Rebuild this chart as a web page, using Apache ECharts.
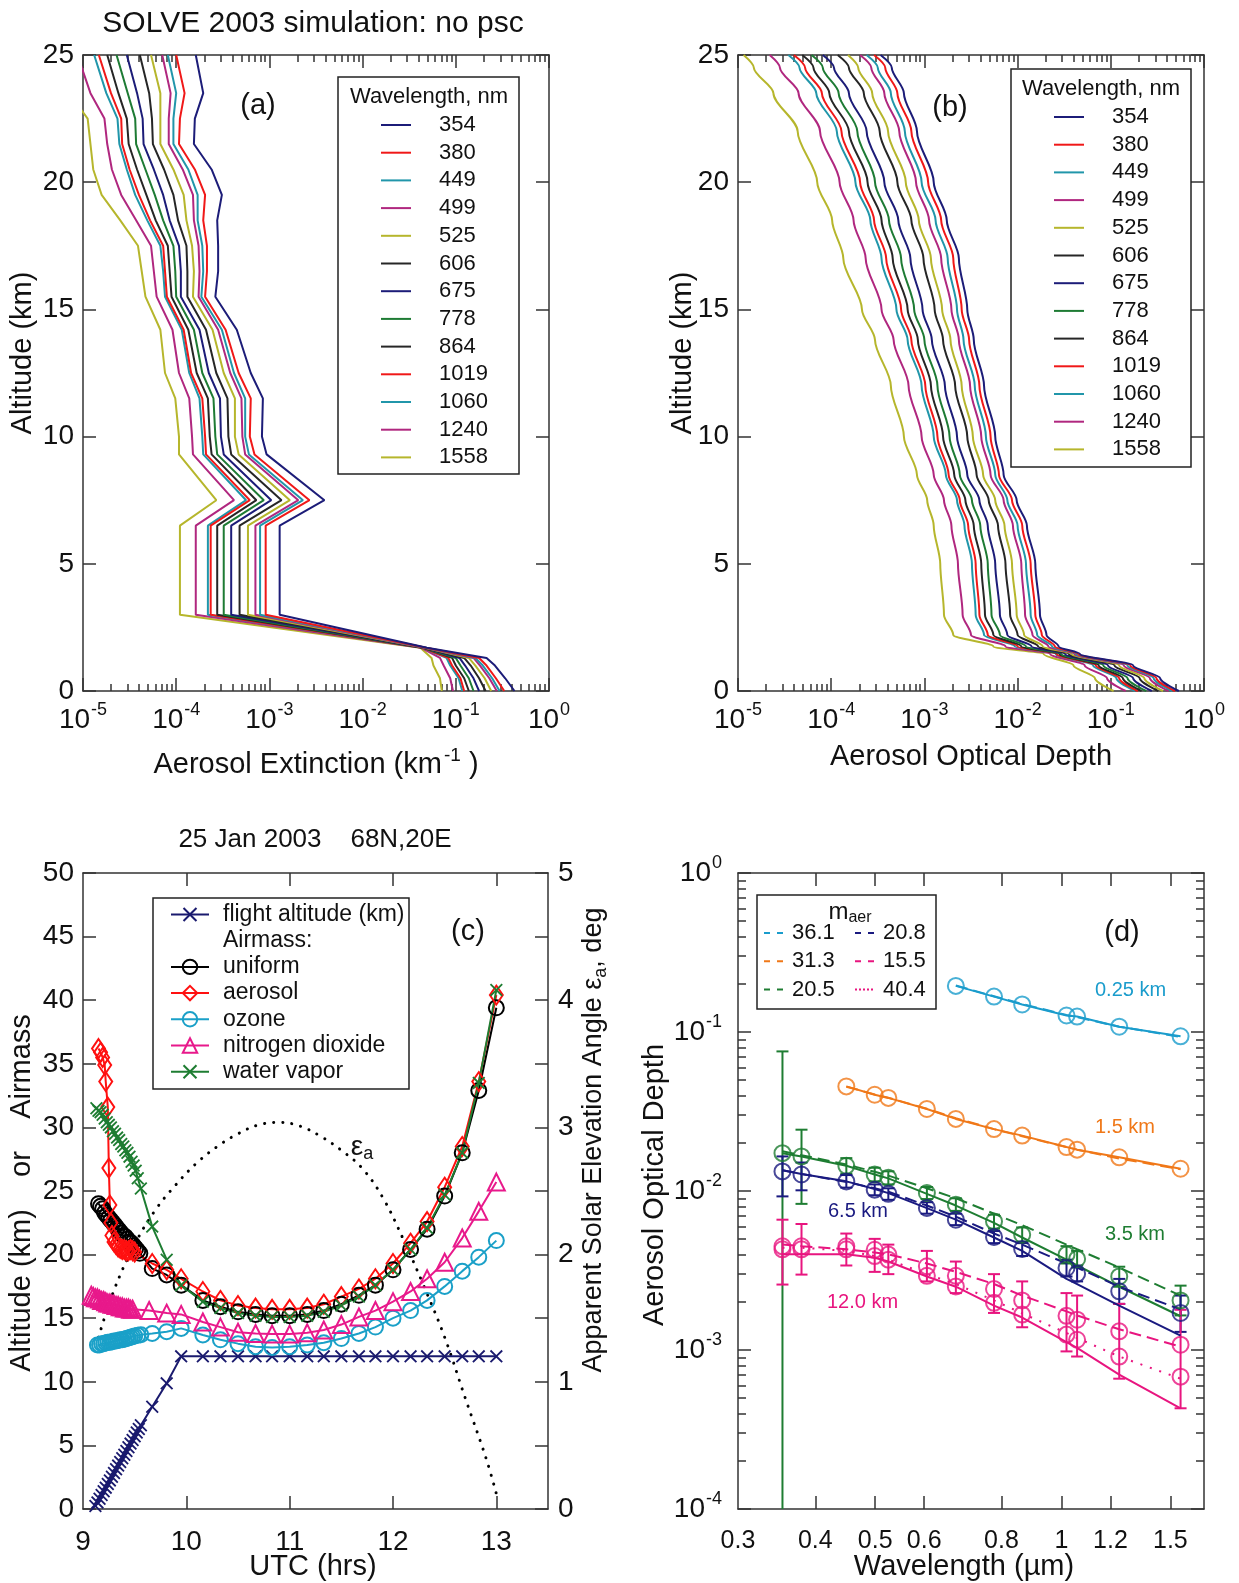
<!DOCTYPE html>
<html><head><meta charset="utf-8">
<script src="https://cdn.jsdelivr.net/npm/echarts@6/dist/echarts.min.js"></script>
<style>html,body{margin:0;padding:0;background:#fff}#c{width:1239px;height:1583px}</style>
</head><body><div id="c"></div>
<script>
// ================= DATA =================
const wavelengthsNm = ['354','380','449','499','525','606','675','778','864','1019','1060','1240','1558'];

// Panel (a): altitude levels (km) and log10 of aerosol extinction (km^-1)
const altA = [0,0.5,1,1.3,1.7,3,6.5,7.5,9.3,10,11.5,12.5,14.2,15.5,16.5,17.5,18.5,19.5,20.5,21.5,22.5,23.5,25];
const extA_354  = [-0.37,-0.47,-0.58,-0.67,-1.31,-2.89,-2.89,-2.41,-3.03,-3.08,-3.07,-3.20,-3.35,-3.58,-3.55,-3.55,-3.56,-3.51,-3.62,-3.81,-3.80,-3.71,-3.79];
const extA_380  = [-0.48,-0.57,-0.67,-0.75,-1.32,-3.04,-3.04,-2.57,-3.16,-3.21,-3.20,-3.33,-3.47,-3.69,-3.67,-3.67,-3.71,-3.69,-3.80,-3.97,-3.96,-3.91,-4.00];
const extA_449  = [-0.53,-0.61,-0.71,-0.79,-1.32,-3.10,-3.10,-2.64,-3.22,-3.26,-3.26,-3.38,-3.51,-3.73,-3.71,-3.72,-3.77,-3.77,-3.87,-4.03,-4.03,-4.00,-4.09];
const extA_499  = [-0.56,-0.64,-0.74,-0.81,-1.33,-3.15,-3.15,-2.69,-3.26,-3.29,-3.30,-3.42,-3.55,-3.76,-3.75,-3.76,-3.81,-3.82,-3.93,-4.08,-4.08,-4.06,-4.15];
const extA_525  = [-0.62,-0.69,-0.79,-0.86,-1.33,-3.23,-3.23,-2.78,-3.33,-3.37,-3.37,-3.49,-3.61,-3.82,-3.81,-3.83,-3.89,-3.92,-4.03,-4.17,-4.17,-4.17,-4.27];
const extA_606  = [-0.68,-0.75,-0.84,-0.91,-1.34,-3.32,-3.32,-2.87,-3.41,-3.44,-3.45,-3.57,-3.68,-3.88,-3.88,-3.89,-3.98,-4.03,-4.13,-4.25,-4.26,-4.29,-4.39];
const extA_675  = [-0.75,-0.81,-0.90,-0.96,-1.34,-3.41,-3.41,-2.98,-3.49,-3.52,-3.53,-3.65,-3.75,-3.95,-3.95,-3.97,-4.07,-4.14,-4.24,-4.35,-4.36,-4.42,-4.53];
const extA_778  = [-0.81,-0.86,-0.95,-1.00,-1.35,-3.49,-3.49,-3.06,-3.56,-3.58,-3.60,-3.72,-3.81,-4.00,-4.01,-4.03,-4.14,-4.23,-4.33,-4.43,-4.44,-4.52,-4.64];
const extA_864  = [-0.86,-0.91,-1.00,-1.04,-1.35,-3.56,-3.56,-3.14,-3.62,-3.64,-3.66,-3.78,-3.87,-4.05,-4.07,-4.09,-4.22,-4.32,-4.42,-4.51,-4.53,-4.62,-4.74];
const extA_1019 = [-0.91,-0.95,-1.04,-1.08,-1.36,-3.63,-3.63,-3.21,-3.68,-3.69,-3.72,-3.84,-3.92,-4.10,-4.12,-4.14,-4.28,-4.40,-4.50,-4.58,-4.59,-4.70,-4.83];
const extA_1060 = [-0.93,-0.97,-1.06,-1.10,-1.36,-3.66,-3.66,-3.25,-3.71,-3.72,-3.75,-3.86,-3.94,-4.12,-4.14,-4.17,-4.31,-4.44,-4.53,-4.61,-4.63,-4.75,-4.88];
const extA_1240 = [-1.03,-1.06,-1.13,-1.17,-1.37,-3.79,-3.79,-3.38,-3.82,-3.83,-3.86,-3.97,-4.04,-4.21,-4.24,-4.27,-4.43,-4.59,-4.69,-4.74,-4.77,-4.92,-5.06];
const extA_1558 = [-1.15,-1.17,-1.24,-1.26,-1.38,-3.96,-3.96,-3.57,-3.97,-3.97,-4.01,-4.12,-4.17,-4.33,-4.37,-4.41,-4.60,-4.80,-4.89,-4.92,-4.95,-5.15,-5.30];

// Panel (b): altitude levels (km) and log10 of aerosol optical depth
const altB = [0,0.5,1.0,1.45,1.75,2.2,3,5,6.5,7.5,8.5,10,12,13.8,15,17,18.5,20,22,23.5,24.5,25];
const odB_354  = [-0.27,-0.47,-0.76,-1.33,-1.56,-1.69,-1.76,-1.81,-1.90,-2.01,-2.15,-2.24,-2.36,-2.47,-2.54,-2.63,-2.76,-2.90,-3.08,-3.22,-3.35,-3.47];
const odB_380  = [-0.31,-0.51,-0.79,-1.35,-1.60,-1.74,-1.81,-1.86,-1.95,-2.06,-2.20,-2.29,-2.41,-2.52,-2.60,-2.69,-2.82,-2.96,-3.14,-3.29,-3.42,-3.54];
const odB_449  = [-0.34,-0.54,-0.82,-1.37,-1.63,-1.79,-1.86,-1.91,-2.00,-2.11,-2.24,-2.34,-2.46,-2.58,-2.65,-2.75,-2.88,-3.03,-3.21,-3.36,-3.50,-3.62];
const odB_499  = [-0.38,-0.58,-0.86,-1.39,-1.67,-1.84,-1.92,-1.96,-2.05,-2.15,-2.29,-2.39,-2.51,-2.63,-2.71,-2.82,-2.95,-3.09,-3.27,-3.43,-3.57,-3.69];
const odB_525  = [-0.44,-0.64,-0.91,-1.42,-1.73,-1.93,-2.01,-2.06,-2.14,-2.24,-2.37,-2.48,-2.60,-2.72,-2.81,-2.93,-3.06,-3.20,-3.39,-3.56,-3.71,-3.82];
const odB_606  = [-0.49,-0.69,-0.96,-1.45,-1.78,-2.00,-2.08,-2.13,-2.21,-2.31,-2.44,-2.54,-2.67,-2.80,-2.89,-3.01,-3.14,-3.29,-3.48,-3.65,-3.81,-3.93];
const odB_675  = [-0.56,-0.76,-1.03,-1.49,-1.85,-2.11,-2.19,-2.24,-2.32,-2.41,-2.54,-2.65,-2.78,-2.92,-3.02,-3.15,-3.28,-3.43,-3.62,-3.81,-3.97,-4.09];
const odB_778  = [-0.62,-0.82,-1.08,-1.53,-1.91,-2.19,-2.28,-2.32,-2.40,-2.49,-2.62,-2.73,-2.86,-3.00,-3.11,-3.25,-3.38,-3.53,-3.72,-3.92,-4.09,-4.21];
const odB_864  = [-0.67,-0.87,-1.13,-1.55,-1.96,-2.26,-2.35,-2.39,-2.47,-2.56,-2.68,-2.80,-2.93,-3.07,-3.18,-3.34,-3.46,-3.61,-3.81,-4.02,-4.19,-4.31];
const odB_1019 = [-0.71,-0.91,-1.16,-1.58,-2.00,-2.32,-2.41,-2.45,-2.53,-2.62,-2.74,-2.86,-2.99,-3.14,-3.25,-3.41,-3.54,-3.69,-3.89,-4.10,-4.28,-4.40];
const odB_1060 = [-0.74,-0.94,-1.19,-1.59,-2.03,-2.36,-2.45,-2.49,-2.57,-2.65,-2.77,-2.90,-3.03,-3.18,-3.30,-3.46,-3.58,-3.74,-3.94,-4.16,-4.34,-4.46];
const odB_1240 = [-0.84,-1.04,-1.28,-1.65,-2.13,-2.50,-2.59,-2.64,-2.71,-2.79,-2.90,-3.03,-3.17,-3.33,-3.46,-3.63,-3.76,-3.91,-4.12,-4.35,-4.55,-4.66];
const odB_1558 = [-0.97,-1.17,-1.40,-1.72,-2.26,-2.69,-2.79,-2.83,-2.90,-2.97,-3.08,-3.22,-3.36,-3.53,-3.67,-3.87,-3.99,-4.15,-4.36,-4.62,-4.83,-4.94];

// Panel (c): UTC hours and values
const flightT   = [9.12,9.14,9.16,9.18,9.20,9.22,9.24,9.26,9.28,9.30,9.32,9.34,9.36,9.38,9.40,9.42,9.44,9.46,9.48,9.50,9.52,9.54,9.56,9.67,9.81,9.95,10.16,10.33,10.50,10.67,10.83,11.00,11.17,11.33,11.50,11.67,11.83,12.00,12.17,12.33,12.50,12.67,12.83,13.00];
const flightAlt = [0.23,0.52,0.81,1.10,1.39,1.68,1.97,2.25,2.54,2.83,3.12,3.41,3.70,3.99,4.27,4.56,4.85,5.14,5.43,5.72,6.01,6.29,6.58,8.04,9.88,12,12,12,12,12,12,12,12,12,12,12,12,12,12,12,12,12,12,12];
const uniformT  = [9.15,9.17,9.19,9.21,9.23,9.25,9.27,9.29,9.31,9.33,9.35,9.37,9.39,9.41,9.43,9.45,9.47,9.49,9.51,9.53,9.55,9.67,9.81,9.95,10.16,10.33,10.50,10.67,10.83,11.00,11.17,11.33,11.50,11.67,11.83,12.00,12.17,12.33,12.50,12.67,12.83,13.00];
const uniformAM = [24.0,23.8,23.6,23.3,23.1,22.9,22.7,22.5,22.3,22.1,21.9,21.7,21.5,21.4,21.2,21.0,20.9,20.7,20.5,20.3,20.1,18.9,18.4,17.6,16.4,15.9,15.5,15.3,15.2,15.2,15.3,15.6,16.1,16.8,17.6,18.8,20.4,22.0,24.6,28.0,32.9,39.4];
const aerosolT  = [9.15,9.17,9.19,9.21,9.22,9.24,9.25,9.26,9.27,9.28,9.30,9.32,9.34,9.36,9.38,9.40,9.42,9.44,9.46,9.48,9.50,9.67,9.81,9.95,10.16,10.33,10.50,10.67,10.83,11.00,11.17,11.33,11.50,11.67,11.83,12.00,12.17,12.33,12.50,12.67,12.83,13.00];
const aerosolAM = [36.2,35.9,35.5,34.9,33.6,31.6,26.8,23.9,22.5,21.5,21.0,20.8,20.6,20.5,20.4,20.4,20.3,20.3,20.4,20.3,20.2,19.3,18.8,18.1,17.1,16.4,16.0,15.8,15.7,15.7,15.8,16.1,16.7,17.3,18.1,19.3,20.9,22.6,25.3,28.5,33.6,40.4];
const ozoneT    = [9.14,9.16,9.18,9.20,9.22,9.24,9.26,9.28,9.30,9.32,9.34,9.36,9.38,9.40,9.42,9.44,9.46,9.48,9.50,9.53,9.56,9.67,9.81,9.95,10.16,10.33,10.50,10.67,10.83,11.00,11.17,11.33,11.50,11.67,11.83,12.00,12.17,12.33,12.50,12.67,12.83,13.00];
const ozoneAM   = [12.9,12.9,13.0,13.0,13.05,13.1,13.1,13.15,13.2,13.2,13.25,13.3,13.3,13.35,13.4,13.45,13.5,13.55,13.6,13.65,13.7,13.8,13.94,14.2,13.68,13.3,13.0,12.76,12.7,12.76,12.9,13.07,13.4,13.8,14.3,15.0,15.6,16.4,17.5,18.7,19.8,21.1];
const no2T      = [9.08,9.10,9.12,9.14,9.16,9.18,9.20,9.22,9.24,9.26,9.28,9.30,9.32,9.34,9.36,9.38,9.40,9.42,9.44,9.46,9.48,9.64,9.81,9.95,10.16,10.33,10.50,10.67,10.83,11.00,11.17,11.33,11.50,11.67,11.83,12.00,12.17,12.33,12.50,12.67,12.83,13.00];
const no2AM     = [16.8,16.7,16.6,16.6,16.5,16.4,16.4,16.3,16.2,16.2,16.1,16.1,16.0,16.0,15.9,15.9,15.8,15.8,15.8,15.7,15.7,15.6,15.4,15.3,14.7,14.3,13.9,13.8,13.75,13.75,13.85,14.07,14.5,15.1,15.6,16.3,17.1,18.1,19.4,21.3,23.4,25.7];
const waterT    = [9.13,9.15,9.17,9.19,9.21,9.23,9.25,9.27,9.29,9.31,9.33,9.35,9.37,9.39,9.41,9.43,9.45,9.47,9.49,9.51,9.53,9.56,9.67,9.81,9.95,10.16,10.33,10.50,10.67,10.83,11.00,11.17,11.33,11.50,11.67,11.83,12.00,12.17,12.33,12.50,12.67,12.83,13.00];
const waterAM   = [31.5,31.3,31.2,31.0,30.7,30.4,30.2,30.0,29.7,29.5,29.2,29.0,28.7,28.5,28.2,28.0,27.7,27.3,27.0,26.6,26.0,25.2,22.2,19.6,17.6,16.3,15.8,15.4,15.2,15.1,15.1,15.2,15.5,16.0,16.7,17.6,18.8,20.4,22.1,24.7,28.0,33.5,40.8];
const elevT     = [9.15,9.3,9.5,9.7,9.9,10.1,10.3,10.5,10.7,10.9,11.1,11.3,11.5,11.7,11.9,12.1,12.3,12.5,12.7,12.9,13.0];
const elevDeg   = [1.35,1.72,2.08,2.35,2.55,2.72,2.85,2.95,3.02,3.04,3.01,2.93,2.82,2.68,2.45,2.12,1.75,1.35,0.87,0.40,0.12];

// Panel (d): wavelength (um) and AOD
const lamAll = [0.354,0.380,0.449,0.499,0.525,0.606,0.675,0.778,0.864,1.019,1.060,1.240,1.558];
const lam025 = [0.675,0.778,0.864,1.019,1.060,1.240,1.558];
const aod025 = [0.195,0.167,0.149,0.127,0.125,0.108,0.094];
const fit025 = [0.196,0.168,0.150,0.128,0.124,0.108,0.093];
const lam15  = [0.449,0.499,0.525,0.606,0.675,0.778,0.864,1.019,1.060,1.240,1.558];
const aod15  = [0.0455,0.0403,0.0385,0.0328,0.0284,0.0245,0.0223,0.0189,0.0182,0.0163,0.0138];
const fit15  = [0.0453,0.0405,0.0386,0.0329,0.0287,0.0245,0.0221,0.0189,0.0182,0.0160,0.0137];
const aod35  = [0.0173,0.0165,0.0144,0.0127,0.0121,0.0097,0.0082,0.00644,0.00531,0.00398,0.00374,0.0029,0.00205];
const true35 = [0.0173,0.0165,0.0144,0.0127,0.0120,0.0096,0.0081,0.0063,0.0051,0.0037,0.0034,0.0025,0.00163];
const fit35  = [0.0178,0.0168,0.0147,0.0132,0.0125,0.0104,0.0090,0.0072,0.0061,0.0046,0.0043,0.0033,0.0022];
const err35Lo = [0.00001,0.0083,0.0128,0.0115,0.0110,0.0089,0.0075,0.0058,0.0048,0.0035,0.0033,0.0025,0.00165];
const err35Hi = [0.0755,0.0243,0.0161,0.0140,0.0133,0.0106,0.0090,0.0071,0.0059,0.0045,0.0042,0.00334,0.00254];
const aod65  = [0.01328,0.0127,0.01149,0.0102,0.0096,0.00782,0.0066,0.00514,0.00432,0.00328,0.00302,0.00234,0.00171];
const true65 = [0.0135,0.0128,0.0115,0.0103,0.0097,0.0078,0.0066,0.0051,0.0042,0.0028,0.0026,0.0019,0.00123];
const fit65  = [0.0135,0.0128,0.0114,0.0104,0.0099,0.0081,0.0069,0.0054,0.0046,0.0035,0.0033,0.0025,0.0018];
const err65Lo = [0.00925,0.0101,0.0105,0.0094,0.0088,0.0072,0.0061,0.0047,0.0039,0.0029,0.0027,0.00195,0.0013];
const err65Hi = [0.0165,0.0151,0.0126,0.0110,0.0104,0.0085,0.0072,0.0056,0.0047,0.0037,0.0034,0.0028,0.0022];
const aod12a = [0.00449,0.00449,0.00449,0.00427,0.00398,0.00336,0.00293,0.00242,0.00205,0.00164,0.00155,0.00131,0.00108];
const fit12a = [0.0046,0.0045,0.0043,0.0041,0.0040,0.0035,0.0031,0.0026,0.0022,0.00175,0.00165,0.00135,0.00105];
const aod12b = [0.0043,0.0043,0.0043,0.0039,0.0037,0.00293,0.00251,0.00198,0.00167,0.00125,0.00116,0.00091,0.00068];
const fit12b = [0.0044,0.0044,0.0042,0.0039,0.0037,0.0030,0.0026,0.00205,0.0017,0.00128,0.00119,0.00091,0.00066];
const true12 = [0.0040,0.0040,0.0040,0.0038,0.0036,0.0029,0.0025,0.0019,0.0016,0.00112,0.00103,0.00070,0.00043];
const err12Lo = [0.00258,0.00298,0.0034,0.0031,0.0030,0.0027,0.00228,0.00171,0.00139,0.00098,0.00091,0.00066,0.00043];
const err12Hi = [0.0066,0.0062,0.0054,0.0050,0.0046,0.0042,0.0036,0.0030,0.0027,0.00228,0.0022,0.00195,0.00179];

// Tick labels
const tickLogAB = [1e-5,1e-4,1e-3,1e-2,1e-1,1];
const tickLogD  = [1e-4,1e-3,1e-2,1e-1,1];
const tickXC    = [9,10,11,12,13];
const tickYRC   = [0,1,2,3,4,5];
const tickXD    = [0.3,0.4,0.5,0.6,0.8,1,1.2,1.5];

// ================= STYLE / BUILD =================
const FF = '"Liberation Sans", Arial, Helvetica, sans-serif';
const TXT = '#111';
const AX = '#333';
const extA = [extA_354,extA_380,extA_449,extA_499,extA_525,extA_606,extA_675,extA_778,extA_864,extA_1019,extA_1060,extA_1240,extA_1558];
const odB  = [odB_354,odB_380,odB_449,odB_499,odB_525,odB_606,odB_675,odB_778,odB_864,odB_1019,odB_1060,odB_1240,odB_1558];
const cNavy='#1c1c78', cRed='#f01818', cTeal='#2196aa', cMag='#b0277f', cOlive='#b6b62c', cBlk='#262626', cGreen='#1e7b34';
const colAB = [cNavy,cRed,cTeal,cMag,cOlive,cBlk,cNavy,cGreen,cBlk,cRed,cTeal,cMag,cOlive];

function minorsOf(lo, hi) { const r=[]; for (let e=lo; e<hi; e++) for (let m=2;m<=9;m++) r.push(m*Math.pow(10,e)); return r; }
const minAB = minorsOf(-5, 0), minD = minorsOf(-4, 0);
const logFmt = v => '{b|10}{s|' + Math.round(Math.log10(v)) + '}';
const logRich = { b:{fontFamily:FF,fontSize:28,color:TXT}, s:{fontFamily:FF,fontSize:18,color:TXT,padding:[0,0,20,1]} };
const plainLab = (o) => Object.assign({show:true, fontFamily:FF, fontSize:28, color:TXT}, o);

function ax(o) {
  const a = {
    gridIndex:o.grid, type:o.type||'value', position:o.pos, min:o.min, max:o.max,
    axisLine:{show:o.line!==false, onZero:false, lineStyle:{color:AX,width:1.5}},
    axisTick:{show:true, inside:true, length:o.len||13, lineStyle:{color:AX,width:1.5}},
    axisLabel:{show:false}, splitLine:{show:false}, minorTick:{show:false}, minorSplitLine:{show:false}, silent:true
  };
  if (o.type==='log') a.logBase = 10;
  if (o.interval!=null) a.interval = o.interval;
  if (o.ticks) a.axisTick.customValues = o.ticks;
  if (o.label) a.axisLabel = o.label;
  return a;
}
const xAxes = [], yAxes = [];
[0,1].forEach(g => {
  xAxes.push(ax({grid:g,type:'log',min:1e-5,max:1,pos:'bottom',ticks:tickLogAB,
    label:{show:true,customValues:tickLogAB,formatter:logFmt,rich:logRich,margin:10,fontFamily:FF,fontSize:28,color:TXT}}));
  xAxes.push(ax({grid:g,type:'log',min:1e-5,max:1,pos:'bottom',ticks:minAB,len:7,line:false}));
  xAxes.push(ax({grid:g,type:'log',min:1e-5,max:1,pos:'top',ticks:tickLogAB}));
  xAxes.push(ax({grid:g,type:'log',min:1e-5,max:1,pos:'top',ticks:minAB,len:7,line:false}));
  yAxes.push(ax({grid:g,min:0,max:25,interval:5,pos:'left',label:plainLab({margin:9})}));
  yAxes.push(ax({grid:g,min:0,max:25,interval:5,pos:'right'}));
});
xAxes.push(ax({grid:2,min:9,max:13.5,interval:1,pos:'bottom',ticks:[10,11,12,13],label:plainLab({customValues:tickXC,margin:19})}));
xAxes.push(ax({grid:2,min:9,max:13.5,interval:1,pos:'top',ticks:[10,11,12,13]}));
yAxes.push(ax({grid:2,min:0,max:50,interval:5,pos:'left',label:plainLab({margin:9})}));
yAxes.push(ax({grid:2,min:0,max:5,interval:0.5,pos:'right',label:plainLab({customValues:tickYRC,margin:10})}));
const dTicks = [0.4,0.5,0.6,0.8,1,1.2,1.5];
xAxes.push(ax({grid:3,type:'log',min:0.3,max:1.7,pos:'bottom',ticks:dTicks,
  label:plainLab({customValues:tickXD,margin:20,fontSize:25,formatter:v=>String(Math.round(v*10)/10)})}));
xAxes.push(ax({grid:3,type:'log',min:0.3,max:1.7,pos:'top',ticks:dTicks}));
yAxes.push(ax({grid:3,type:'log',min:1e-4,max:1,pos:'left',ticks:tickLogD,
  label:{show:true,customValues:tickLogD,formatter:logFmt,rich:logRich,margin:16,fontFamily:FF,fontSize:28,color:TXT}}));
yAxes.push(ax({grid:3,type:'log',min:1e-4,max:1,pos:'left',ticks:minD,len:8,line:false}));
yAxes.push(ax({grid:3,type:'log',min:1e-4,max:1,pos:'right',ticks:tickLogD}));
yAxes.push(ax({grid:3,type:'log',min:1e-4,max:1,pos:'right',ticks:minD,len:8,line:false}));

const series = [];
for (let i = wavelengthsNm.length-1; i >= 0; i--) {
  series.push({name:wavelengthsNm[i], type:'line', xAxisIndex:0, yAxisIndex:0, symbol:'none', clip:true, z:3,
    lineStyle:{color:colAB[i],width:2}, itemStyle:{color:colAB[i]},
    data: altA.map((h,k)=>[Math.pow(10, extA[i][k]), h])});
  series.push({name:wavelengthsNm[i], type:'line', xAxisIndex:4, yAxisIndex:2, symbol:'none', clip:true, z:3,
    smooth:0.3, smoothMonotone:'y',
    lineStyle:{color:colAB[i],width:2}, itemStyle:{color:colAB[i]},
    data: altB.map((h,k)=>[Math.pow(10, odB[i][k]), h])});
}
const XPATH = 'path://M0,1L1,0L5,4L9,0L10,1L6,5L10,9L9,10L5,6L1,10L0,9L4,5Z';
const pairs = (xs, ys) => xs.map((x,i)=>[x, ys[i]]);
const cFlight='#1a1a6e', cUni='#000000', cAer='#ff1010', cOz='#1aa0c8', cNo2='#e8198b', cWat='#1e7d32';
function cSeries(name, xs, ys, color, symbol, size, hollow) {
  return {name, type:'line', xAxisIndex:8, yAxisIndex:4, data:pairs(xs,ys), symbol, symbolSize:size, z:4,
    showAllSymbol:true, clip:true,
    lineStyle:{color, width:2},
    itemStyle: hollow ? {color:'rgba(0,0,0,0)', borderColor:color, borderWidth:2} : {color, borderWidth:0}};
}
series.push({name:'ε', type:'line', xAxisIndex:8, yAxisIndex:5, data:pairs(elevT, elevDeg), symbol:'none', smooth:0.4, z:2,
  lineStyle:{color:'#000', width:3, type:[0.1,9], cap:'round'}});
series.push(cSeries('flight altitude (km)', flightT, flightAlt, cFlight, XPATH, 13, false));
series.push(cSeries('ozone', ozoneT, ozoneAM, cOz, 'circle', 15, true));
series.push(cSeries('nitrogen dioxide', no2T, no2AM, cNo2, 'triangle', 17, true));
series.push(cSeries('uniform', uniformT, uniformAM, cUni, 'circle', 15, true));
series.push(cSeries('aerosol', aerosolT, aerosolAM, cAer, 'diamond', [13,19], true));
series.push(cSeries('water vapor', waterT, waterAM, cWat, XPATH, 13, false));
series.push({name:'Airmass:', type:'line', xAxisIndex:8, yAxisIndex:4, data:[], symbol:'none', lineStyle:{opacity:0}});

const dCy='#1a9ccc', dOr='#f07818', dGr='#1e7d32', dNv='#1a1a80', dPk='#e8157f';
function dLine(name, xs, ys, color, type, w) {
  return {name, type:'line', xAxisIndex:10, yAxisIndex:6, data:pairs(xs,ys), symbol:'none', clip:true, z:3,
    lineStyle:{color, width:w||2, type:type||'solid'}, itemStyle:{color}};
}
function dCirc(name, xs, ys, color) {
  return {name, type:'scatter', xAxisIndex:10, yAxisIndex:6, data:pairs(xs,ys), symbol:'circle', symbolSize:16, z:4,
    itemStyle:{color:'rgba(0,0,0,0)', borderColor:color, borderWidth:2}};
}
function dErr(name, xs, lo, hi, color) {
  return {name, type:'custom', xAxisIndex:10, yAxisIndex:6, clip:true, z:3,
    data: xs.map((x,i)=>[x, lo[i], hi[i]]), encode:{x:0, y:[1,2]},
    renderItem:(params, api) => {
      const x = api.value(0), p1 = api.coord([x, api.value(2)]), p2 = api.coord([x, api.value(1)]);
      const w = 6, st = {stroke:color, lineWidth:2};
      return {type:'group', children:[
        {type:'line', shape:{x1:p1[0],y1:p1[1],x2:p2[0],y2:p2[1]}, style:st},
        {type:'line', shape:{x1:p1[0]-w,y1:p1[1],x2:p1[0]+w,y2:p1[1]}, style:st},
        {type:'line', shape:{x1:p2[0]-w,y1:p2[1],x2:p2[0]+w,y2:p2[1]}, style:st}]};
    }};
}
series.push(dLine('t025', lam025, aod025, dCy));
series.push(dLine('36.1', lam025, fit025, dCy, [12,6]));
series.push(dCirc('c025', lam025, aod025, dCy));
series.push(dLine('t15', lam15, aod15, dOr));
series.push(dLine('31.3', lam15, fit15, dOr, [12,6]));
series.push(dCirc('c15', lam15, aod15, dOr));
series.push(dErr('e35', lamAll, err35Lo, err35Hi, dGr));
series.push(dLine('t35', lamAll, true35, dGr));
series.push(dLine('20.5', lamAll, fit35, dGr, [12,6]));
series.push(dCirc('c35', lamAll, aod35, dGr));
series.push(dErr('e65', lamAll, err65Lo, err65Hi, dNv));
series.push(dLine('t65', lamAll, true65, dNv));
series.push(dLine('20.8', lamAll, fit65, dNv, [12,6]));
series.push(dCirc('c65', lamAll, aod65, dNv));
series.push(dErr('e12', lamAll, err12Lo, err12Hi, dPk));
series.push(dLine('t12', lamAll, true12, dPk));
series.push(dLine('15.5', lamAll, fit12a, dPk, [12,6]));
series.push(dLine('40.4', lamAll, fit12b, dPk, [2,8]));
series.push(dCirc('c12a', lamAll, aod12a, dPk));
series.push(dCirc('c12b', lamAll, aod12b, dPk));

const legText = (size, padL) => ({fontFamily:FF, fontSize:size, color:TXT, lineHeight:size, padding:[0,0,0,padL]});
const noSym = {opacity:0};
const dash = {type:[6,7]};
const legends = [
  {orient:'vertical', left:380, top:114, padding:0, itemGap:5.7, itemWidth:30, itemHeight:12, selectedMode:false, z:60,
   itemStyle:noSym, textStyle:legText(22,23), data:wavelengthsNm},
  {orient:'vertical', left:1053, top:106, padding:0, itemGap:5.7, itemWidth:30, itemHeight:12, selectedMode:false, z:60,
   itemStyle:noSym, textStyle:legText(22,23), data:wavelengthsNm},
  {orient:'vertical', left:170, top:903, padding:0, itemGap:3.2, itemWidth:38, itemHeight:18, selectedMode:false, z:60,
   textStyle:legText(23,9),
   data:['flight altitude (km)', {name:'Airmass:', itemStyle:{opacity:0}, lineStyle:{opacity:0}}, 'uniform','aerosol','ozone','nitrogen dioxide','water vapor']},
  {orient:'vertical', left:763, top:922, padding:0, itemGap:6.3, itemWidth:20, itemHeight:10, selectedMode:false, z:60,
   itemStyle:noSym, textStyle:legText(22,3),
   data:[{name:'36.1',lineStyle:dash},{name:'31.3',lineStyle:dash},{name:'20.5',lineStyle:dash}]},
  {orient:'vertical', left:854, top:922, padding:0, itemGap:6.3, itemWidth:20, itemHeight:10, selectedMode:false, z:60,
   itemStyle:noSym, textStyle:legText(22,3),
   data:[{name:'20.8',lineStyle:dash},{name:'15.5',lineStyle:dash},{name:'40.4',lineStyle:{type:[2,2]}}]}
];

function T(x, y, text, size, o) {
  o = o || {};
  const st = {text, fontFamily:FF, fontSize:size, fill:o.color||TXT, align:o.align||'center', verticalAlign:'middle'};
  if (o.rich) st.rich = o.rich;
  return {type:'text', x, y, rotation:o.rot||0, z:70, silent:true, style:st};
}
const box = (x,y,w,h) => ({type:'rect', z:50, silent:true, shape:{x,y,width:w,height:h}, style:{fill:'#fff', stroke:'#222', lineWidth:1.5}});
const R = Math.PI/2;
const supRich = (sz) => ({t:{fontFamily:FF,fontSize:sz,fill:TXT}, s:{fontFamily:FF,fontSize:Math.round(sz*0.65),fill:TXT,padding:[0,0,Math.round(sz*0.62),2]}});
const subRich = (sz) => ({t:{fontFamily:FF,fontSize:sz,fill:TXT}, u:{fontFamily:FF,fontSize:Math.round(sz*0.65),fill:TXT,padding:[Math.round(sz*0.5),0,0,0]}});
const graphic = [
  box(338,77,181,397), box(1011,69,180,398), box(153,898,256,191), box(757,895,179,114),
  T(429,97,'Wavelength, nm',22), T(1101,89,'Wavelength, nm',22),
  T(850,912,'{t|m}{u|aer}',24,{rich:subRich(24)}),
  T(313,24,'SOLVE 2003 simulation: no psc',30),
  T(316,765,'{t|Aerosol Extinction (km}{s|-1}{t| )}',29,{rich:supRich(29)}),
  T(971,757,'Aerosol Optical Depth',29),
  T(23,353,'Altitude (km)',29,{rot:R}),
  T(683,353,'Altitude (km)',29,{rot:R}),
  T(258,106,'(a)',29), T(950,108,'(b)',29), T(468,932,'(c)',29), T(1122,933,'(d)',29),
  T(315,840,'25 Jan 2003    68N,20E',26),
  T(313,1567,'UTC (hrs)',29),
  T(22,1193,'Altitude (km)    or    Airmass',29,{rot:R}),
  T(594,1140,'{t|Apparent Solar Elevation Angle ε}{u|a}{t|, deg}',27,{rot:R,rich:subRich(27)}),
  T(362,1147,'{t|ε}{u|a}',28,{rich:subRich(28)}),
  T(964,1567,'Wavelength (µm)',29),
  T(655,1185,'Aerosol Optical Depth',29,{rot:R}),
  T(1095,990,'0.25 km',20,{align:'left',color:dCy}),
  T(1095,1127,'1.5 km',20,{align:'left',color:dOr}),
  T(1105,1234,'3.5 km',20,{align:'left',color:dGr}),
  T(828,1211,'6.5 km',20,{align:'left',color:dNv}),
  T(827,1302,'12.0 km',20,{align:'left',color:dPk})
];

const chart = echarts.init(document.getElementById('c'), null, {renderer:'canvas'});
chart.setOption({
  animation:false, backgroundColor:'#fff',
  textStyle:{fontFamily:FF},
  grid:[
    {left:83, top:55, width:466, height:636},
    {left:738, top:55, width:466, height:636},
    {left:83, top:873, width:465, height:636},
    {left:738, top:873, width:466, height:636}
  ],
  xAxis:xAxes, yAxis:yAxes, legend:legends, series, graphic
});
</script></body></html>
